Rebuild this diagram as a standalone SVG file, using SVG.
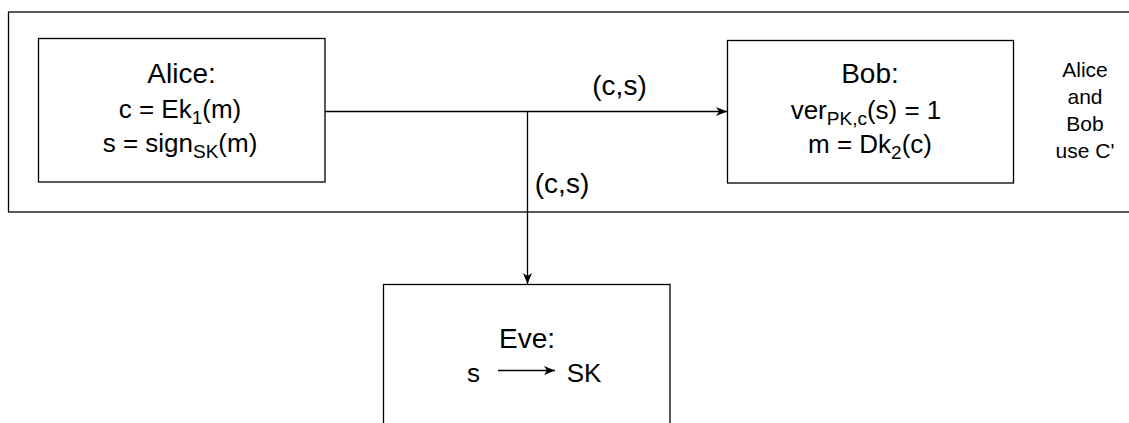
<svg xmlns="http://www.w3.org/2000/svg" width="1129" height="423" viewBox="0 0 1129 423">
<style>
.box{fill:#fff;stroke:#000;stroke-width:1.3}
.t{font-family:"Liberation Sans",Arial,Helvetica,sans-serif;font-size:26px;fill:#000;text-anchor:middle}
.h{font-size:28px}
.s{font-size:19px}
.n{font-family:"Liberation Sans",Arial,Helvetica,sans-serif;font-size:21px;fill:#000;text-anchor:middle}
.c{fill:none;stroke:#000;stroke-width:1.3}
</style>
<defs>
<marker id="ah" markerWidth="11" markerHeight="9" refX="11" refY="4.5" orient="auto" markerUnits="userSpaceOnUse">
<path d="M0,0 L11,4.5 L0,9 L3,4.5 Z" fill="#000"/>
</marker>
</defs>
<g id="frame">
<rect class="box" x="8.5" y="12" width="1130" height="200"/>
</g>
<g id="alice">
<rect class="box" x="38.5" y="38.5" width="286.5" height="143.5"/>
<text class="t h" x="181.5" y="83">Alice:</text>
<text class="t" x="180" y="118">c = Ek<tspan class="s" dy="6">1</tspan><tspan dy="-6">(m)</tspan></text>
<text class="t" x="180" y="152">s = sign<tspan class="s" dy="6">SK</tspan><tspan dy="-6">(m)</tspan></text>
</g>
<g id="bob">
<rect class="box" x="727.5" y="40.5" width="286" height="142.5"/>
<text class="t h" x="870" y="83">Bob:</text>
<text class="t" x="866" y="119">ver<tspan class="s" dy="6">PK,c</tspan><tspan dy="-6">(s) = 1</tspan></text>
<text class="t" x="870" y="153">m = Dk<tspan class="s" dy="6">2</tspan><tspan dy="-6">(c)</tspan></text>
</g>
<g id="note">
<text class="n" x="1085" y="77">Alice</text>
<text class="n" x="1085" y="104">and</text>
<text class="n" x="1085" y="131">Bob</text>
<text class="n" x="1085" y="158">use C'</text>
</g>
<g id="eve">
<rect class="box" x="383.5" y="284.5" width="286.5" height="160"/>
<text class="t h" x="527" y="348">Eve:</text>
<text class="t" x="473.5" y="382">s</text>
<text class="t" x="584" y="382">SK</text>
<line class="c" x1="498" y1="370.5" x2="555" y2="370.5" marker-end="url(#ah)"/>
</g>
<g id="connectors">
<line class="c" x1="325" y1="111.5" x2="727" y2="111.5" marker-end="url(#ah)"/>
<line class="c" x1="527.5" y1="111.5" x2="527.5" y2="284" marker-end="url(#ah)"/>
<text class="t h" x="619.5" y="95">(c,s)</text>
<text class="t h" x="562" y="193">(c,s)</text>
</g>
</svg>
